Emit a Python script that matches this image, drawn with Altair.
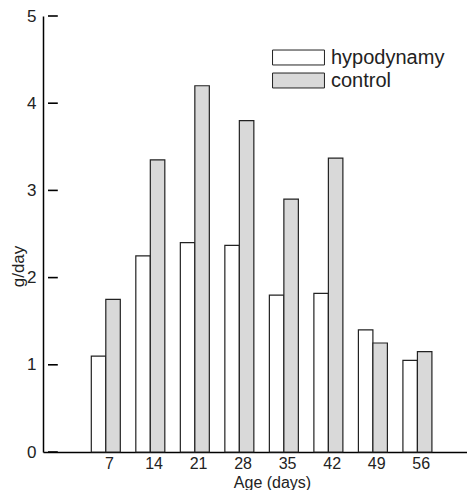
import altair as alt
import pandas as pd

days = [7, 14, 21, 28, 35, 42, 49, 56]
hypodynamy = [1.10, 2.25, 2.40, 2.37, 1.80, 1.82, 1.40, 1.05]
control = [1.75, 3.35, 4.20, 3.80, 2.90, 3.37, 1.25, 1.15]
series_names = ["hypodynamy", "control"]
y_ticks = [0, 1, 2, 3, 4, 5]

rows = []
for d, h, c in zip(days, hypodynamy, control):
    rows.append({"day": d, "value": h, "series": "hypodynamy"})
    rows.append({"day": d, "value": c, "series": "control"})
df = pd.DataFrame(rows)
ticks_df = pd.DataFrame({"value": y_ticks, "x0": [-2.6] * 6, "x1": [-1.06] * 6})

FONT = "Liberation Sans"

x_scale = alt.Scale(domain=[-2.6, 62.5], nice=False, zero=False)
x_enc = alt.X(
    "day:Q",
    scale=x_scale,
    axis=alt.Axis(
        values=days, ticks=False, grid=False, labelFontSize=16, labelPadding=3,
        domainColor="black", domainWidth=1.5, labelColor="#222",
        title="Age (days)", titleFontSize=16, titleFontWeight="normal",
        titleColor="#222", titleX=229, titleY=35, titleBaseline="alphabetic",
    ),
)
y_scale = alt.Scale(domain=[0, 5], nice=False)
y_enc = alt.Y(
    "value:Q",
    scale=y_scale,
    axis=alt.Axis(
        values=y_ticks, format="d", ticks=False, grid=False, labelFontSize=17,
        labelPadding=7, domainColor="black", domainWidth=1.5, labelColor="#222",
        title="g/day", titleFontSize=17, titleFontWeight="normal", titleColor="#222",
        titleX=-25, titleY=250, titleBaseline="middle", titleAlign="center",
    ),
)
fill_enc = alt.Fill(
    "series:N",
    scale=alt.Scale(domain=series_names, range=["white", "#d9d9d9"]),
    legend=alt.Legend(
        title=None, orient="none", legendX=244, legendY=30,
        symbolType="M-2.36,-0.68H2.36V0.68H-2.36Z", symbolSize=484,
        symbolStrokeColor="#222", symbolStrokeWidth=1, symbolOpacity=1,
        labelFontSize=20, labelOffset=21, rowPadding=1, labelColor="#222",
    ),
)

base = alt.Chart(df).encode(x=x_enc, y=y_enc, fill=fill_enc)
bars_h = base.transform_filter(alt.datum.series == "hypodynamy").mark_bar(
    width=14.5, xOffset=-10.5, stroke="#222", strokeWidth=1.2, opacity=1
)
bars_c = base.transform_filter(alt.datum.series == "control").mark_bar(
    width=14.5, xOffset=4.0, stroke="#222", strokeWidth=1.2, opacity=1
)
yticks = alt.Chart(ticks_df).mark_rule(stroke="#000", strokeWidth=1.6, opacity=1).encode(
    y=alt.Y("value:Q", scale=y_scale),
    x=alt.X("x0:Q", scale=x_scale),
    x2="x1:Q",
)

chart = (
    alt.layer(bars_h, bars_c, yticks)
    .properties(
        width=424, height=436,
        autosize=alt.AutoSizeParams(type="none"),
        padding={"left": 35, "top": 8, "right": 0, "bottom": 38},
    )
    .configure(font=FONT)
    .configure_view(stroke=None)
)

chart.save("out.html", embed_options={"renderer": "svg", "actions": False})
